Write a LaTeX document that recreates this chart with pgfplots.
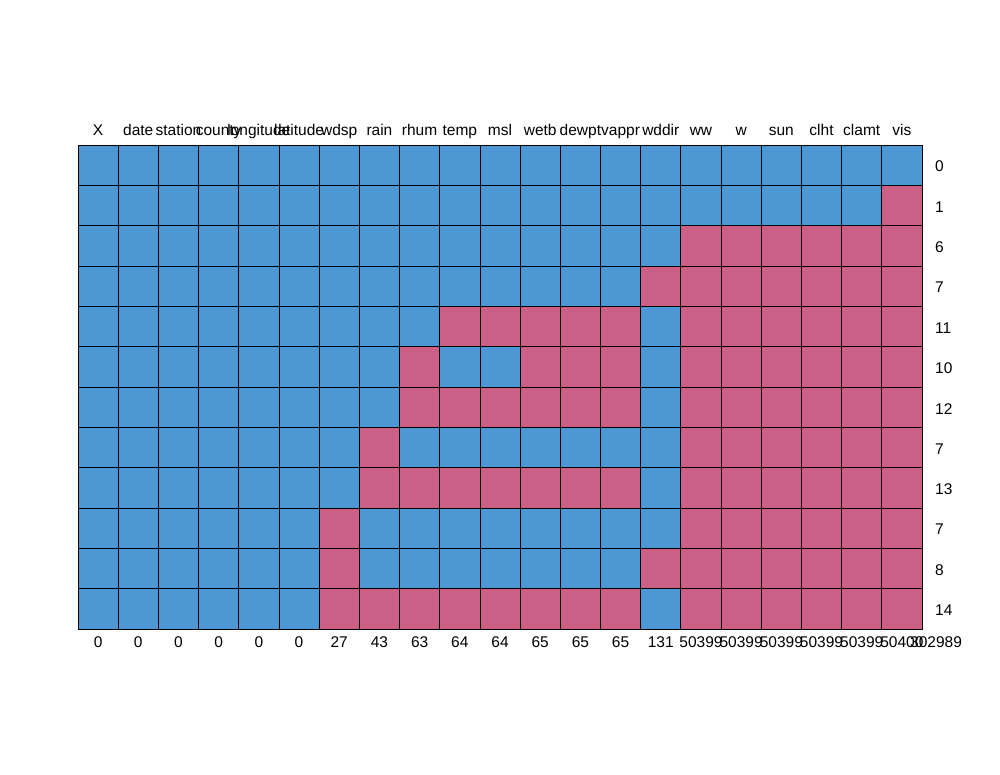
\documentclass[border=0pt]{standalone}
\usepackage{pgfplots}
\pgfplotsset{compat=1.18}
\usepackage{fontspec}
\setmainfont{Liberation Sans}
\definecolor{mdblue}{RGB}{77,152,212}
\definecolor{mdred}{RGB}{204,95,133}
\begin{document}
\begin{tikzpicture}[x=1pt,y=1pt]
\path[use as bounding box] (0,0) rectangle (1000,775);
\begin{axis}[
  at={(78pt,146pt)}, anchor=south west,
  scale only axis, width=844pt, height=484pt,
  xmin=-0.5, xmax=20.5, ymin=-0.5, ymax=11.5,
  clip=false,
  axis line style={draw=none}, major tick length=0pt,
  /pgf/number format/assume math mode=true,
  xtick={0,...,20},
  xticklabels={0,0,0,0,0,0,27,43,63,64,64,65,65,65,131,50399,50399,50399,50399,50399,50400},
  xticklabel style={anchor=north, yshift=-7pt, inner sep=0pt, font=\fontsize{15.5}{18}\selectfont},
  ytick={0,...,11},
  yticklabels={14,8,7,13,7,12,10,11,7,6,1,0},
  yticklabel pos=right,
  yticklabel style={anchor=west, xshift=13pt, yshift=-1.5pt, inner sep=0pt, font=\fontsize{15.5}{18}\selectfont},
  colormap={mdp}{rgb255(0)=(204,95,133) rgb255(1)=(77,152,212)},
  point meta min=0, point meta max=1,
]
\addplot[matrix plot*, mesh/cols=21, point meta=explicit, shader=faceted, faceted color=black, line width=0.8pt]
table[row sep=\\, meta=c] {
x y c\\
0 0 1\\ 1 0 1\\ 2 0 1\\ 3 0 1\\ 4 0 1\\ 5 0 1\\ 6 0 0\\ 7 0 0\\ 8 0 0\\ 9 0 0\\ 10 0 0\\ 11 0 0\\ 12 0 0\\ 13 0 0\\ 14 0 1\\ 15 0 0\\ 16 0 0\\ 17 0 0\\ 18 0 0\\ 19 0 0\\ 20 0 0\\
0 1 1\\ 1 1 1\\ 2 1 1\\ 3 1 1\\ 4 1 1\\ 5 1 1\\ 6 1 0\\ 7 1 1\\ 8 1 1\\ 9 1 1\\ 10 1 1\\ 11 1 1\\ 12 1 1\\ 13 1 1\\ 14 1 0\\ 15 1 0\\ 16 1 0\\ 17 1 0\\ 18 1 0\\ 19 1 0\\ 20 1 0\\
0 2 1\\ 1 2 1\\ 2 2 1\\ 3 2 1\\ 4 2 1\\ 5 2 1\\ 6 2 0\\ 7 2 1\\ 8 2 1\\ 9 2 1\\ 10 2 1\\ 11 2 1\\ 12 2 1\\ 13 2 1\\ 14 2 1\\ 15 2 0\\ 16 2 0\\ 17 2 0\\ 18 2 0\\ 19 2 0\\ 20 2 0\\
0 3 1\\ 1 3 1\\ 2 3 1\\ 3 3 1\\ 4 3 1\\ 5 3 1\\ 6 3 1\\ 7 3 0\\ 8 3 0\\ 9 3 0\\ 10 3 0\\ 11 3 0\\ 12 3 0\\ 13 3 0\\ 14 3 1\\ 15 3 0\\ 16 3 0\\ 17 3 0\\ 18 3 0\\ 19 3 0\\ 20 3 0\\
0 4 1\\ 1 4 1\\ 2 4 1\\ 3 4 1\\ 4 4 1\\ 5 4 1\\ 6 4 1\\ 7 4 0\\ 8 4 1\\ 9 4 1\\ 10 4 1\\ 11 4 1\\ 12 4 1\\ 13 4 1\\ 14 4 1\\ 15 4 0\\ 16 4 0\\ 17 4 0\\ 18 4 0\\ 19 4 0\\ 20 4 0\\
0 5 1\\ 1 5 1\\ 2 5 1\\ 3 5 1\\ 4 5 1\\ 5 5 1\\ 6 5 1\\ 7 5 1\\ 8 5 0\\ 9 5 0\\ 10 5 0\\ 11 5 0\\ 12 5 0\\ 13 5 0\\ 14 5 1\\ 15 5 0\\ 16 5 0\\ 17 5 0\\ 18 5 0\\ 19 5 0\\ 20 5 0\\
0 6 1\\ 1 6 1\\ 2 6 1\\ 3 6 1\\ 4 6 1\\ 5 6 1\\ 6 6 1\\ 7 6 1\\ 8 6 0\\ 9 6 1\\ 10 6 1\\ 11 6 0\\ 12 6 0\\ 13 6 0\\ 14 6 1\\ 15 6 0\\ 16 6 0\\ 17 6 0\\ 18 6 0\\ 19 6 0\\ 20 6 0\\
0 7 1\\ 1 7 1\\ 2 7 1\\ 3 7 1\\ 4 7 1\\ 5 7 1\\ 6 7 1\\ 7 7 1\\ 8 7 1\\ 9 7 0\\ 10 7 0\\ 11 7 0\\ 12 7 0\\ 13 7 0\\ 14 7 1\\ 15 7 0\\ 16 7 0\\ 17 7 0\\ 18 7 0\\ 19 7 0\\ 20 7 0\\
0 8 1\\ 1 8 1\\ 2 8 1\\ 3 8 1\\ 4 8 1\\ 5 8 1\\ 6 8 1\\ 7 8 1\\ 8 8 1\\ 9 8 1\\ 10 8 1\\ 11 8 1\\ 12 8 1\\ 13 8 1\\ 14 8 0\\ 15 8 0\\ 16 8 0\\ 17 8 0\\ 18 8 0\\ 19 8 0\\ 20 8 0\\
0 9 1\\ 1 9 1\\ 2 9 1\\ 3 9 1\\ 4 9 1\\ 5 9 1\\ 6 9 1\\ 7 9 1\\ 8 9 1\\ 9 9 1\\ 10 9 1\\ 11 9 1\\ 12 9 1\\ 13 9 1\\ 14 9 1\\ 15 9 0\\ 16 9 0\\ 17 9 0\\ 18 9 0\\ 19 9 0\\ 20 9 0\\
0 10 1\\ 1 10 1\\ 2 10 1\\ 3 10 1\\ 4 10 1\\ 5 10 1\\ 6 10 1\\ 7 10 1\\ 8 10 1\\ 9 10 1\\ 10 10 1\\ 11 10 1\\ 12 10 1\\ 13 10 1\\ 14 10 1\\ 15 10 1\\ 16 10 1\\ 17 10 1\\ 18 10 1\\ 19 10 1\\ 20 10 0\\
0 11 1\\ 1 11 1\\ 2 11 1\\ 3 11 1\\ 4 11 1\\ 5 11 1\\ 6 11 1\\ 7 11 1\\ 8 11 1\\ 9 11 1\\ 10 11 1\\ 11 11 1\\ 12 11 1\\ 13 11 1\\ 14 11 1\\ 15 11 1\\ 16 11 1\\ 17 11 1\\ 18 11 1\\ 19 11 1\\ 20 11 1\\
};
\node[anchor=north, inner sep=0pt, yshift=-7pt, font=\fontsize{15.5}{18}\selectfont] at (axis cs:20.85,-0.5) {302989};
\end{axis}
\begin{axis}[
  at={(78pt,146pt)}, anchor=south west,
  scale only axis, width=844pt, height=484pt,
  xmin=-0.5, xmax=20.5, ymin=-0.5, ymax=11.5,
  axis line style={draw=none}, major tick length=0pt,
  xtick={0,...,20}, ytick=\empty,
  xticklabel pos=upper,
  xticklabels={X,date,station,county,longitude,latitude,wdsp,rain,rhum,temp,msl,wetb,dewpt,vappr,wddir,ww,w,sun,clht,clamt,vis},
  xticklabel style={anchor=base, yshift=9pt, inner sep=0pt, font=\fontsize{15.5}{18}\selectfont},
]
\end{axis}
\end{tikzpicture}
\end{document}
